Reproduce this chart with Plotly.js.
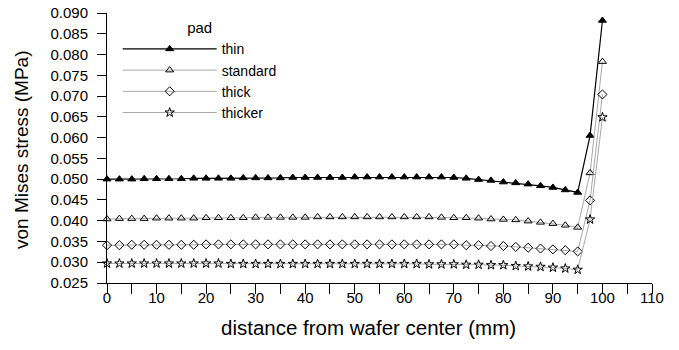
<!DOCTYPE html>
<html>
<head>
<meta charset="utf-8">
<script src="https://cdn.plot.ly/plotly-3.0.1.min.js"></script>
<style>
  html, body { margin: 0; padding: 0; background: #fff; }
  #chart { width: 679px; height: 350px; }
</style>
</head>
<body>
<div id="chart"></div>
<script>
// Radial positions on the wafer (mm)
const distance = [
  0, 2.5, 5, 7.5, 10, 12.5, 15, 17.5, 20, 22.5,
  25, 27.5, 30, 32.5, 35, 37.5, 40, 42.5, 45, 47.5,
  50, 52.5, 55, 57.5, 60, 62.5, 65, 67.5, 70, 72.5,
  75, 77.5, 80, 82.5, 85, 87.5, 90, 92.5, 95, 97.5, 100
];

// von Mises stress (MPa) for each pad thickness
const thin = [
  0.0500, 0.0500, 0.0500, 0.0501, 0.0501, 0.0501, 0.0501, 0.0502, 0.0502, 0.0502,
  0.0502, 0.0503, 0.0503, 0.0503, 0.0503, 0.0504, 0.0504, 0.0504, 0.0504, 0.0504,
  0.0505, 0.0505, 0.0505, 0.0505, 0.0505, 0.0505, 0.0505, 0.0505, 0.0504, 0.0502,
  0.0499, 0.0497, 0.0493, 0.0491, 0.0488, 0.0484, 0.0480, 0.0474, 0.0468, 0.0605, 0.0882
];
const standard = [
  0.0404, 0.0405, 0.0405, 0.0405, 0.0406, 0.0406, 0.0406, 0.0406, 0.0407, 0.0407,
  0.0407, 0.0407, 0.0408, 0.0408, 0.0408, 0.0408, 0.0408, 0.0409, 0.0409, 0.0409,
  0.0409, 0.0409, 0.0409, 0.0409, 0.0409, 0.0409, 0.0409, 0.0408, 0.0407, 0.0407,
  0.0406, 0.0404, 0.0403, 0.0402, 0.0399, 0.0396, 0.0393, 0.0389, 0.0384, 0.0515, 0.0783
];
const thick = [
  0.0341, 0.0341, 0.0342, 0.0342, 0.0342, 0.0342, 0.0342, 0.0342, 0.0343, 0.0343,
  0.0343, 0.0343, 0.0343, 0.0343, 0.0343, 0.0343, 0.0343, 0.0343, 0.0343, 0.0343,
  0.0343, 0.0343, 0.0343, 0.0343, 0.0343, 0.0343, 0.0343, 0.0343, 0.0343, 0.0341,
  0.0341, 0.0339, 0.0339, 0.0337, 0.0335, 0.0333, 0.0331, 0.0329, 0.0326, 0.0449, 0.0704
];
const thicker = [
  0.0297, 0.0297, 0.0297, 0.0297, 0.0297, 0.0297, 0.0297, 0.0297, 0.0297, 0.0297,
  0.0296, 0.0296, 0.0296, 0.0296, 0.0296, 0.0296, 0.0296, 0.0296, 0.0296, 0.0296,
  0.0296, 0.0296, 0.0296, 0.0296, 0.0296, 0.0296, 0.0295, 0.0295, 0.0295, 0.0294,
  0.0294, 0.0293, 0.0293, 0.0291, 0.0290, 0.0289, 0.0287, 0.0285, 0.0282, 0.0403, 0.0649
];

const seriesNames = ['thin', 'standard', 'thick', 'thicker'];
const legendTitle = 'pad';
const xTitle = 'distance from wafer center (mm)';
const yTitle = 'von Mises stress (MPa)';

const FONT = 'Liberation Sans, Arial, Helvetica, sans-serif';

function series(name, y, symbol, lineColor, lineWidth) {
  return {
    type: 'scatter',
    mode: 'lines+markers',
    name: name,
    x: distance,
    y: y,
    line: { color: lineColor, width: lineWidth },
    marker: {
      symbol: symbol,
      size: 7,
      color: '#000',
      line: { color: '#000', width: 1 }
    },
    cliponaxis: false
  };
}

const traces = [
  series(seriesNames[0], thin, 'triangle-up', '#000', 1.2),
  series(seriesNames[1], standard, 'triangle-up-open', '#a8a8a8', 1),
  series(seriesNames[2], thick, 'diamond-open', '#a8a8a8', 1),
  series(seriesNames[3], thicker, 'star-open', '#a8a8a8', 1)
];

const layout = {
  width: 679,
  height: 350,
  margin: { l: 107, r: 27, t: 13, b: 67 },
  paper_bgcolor: '#fff',
  plot_bgcolor: '#fff',
  font: { family: FONT, size: 15, color: '#000' },
  showlegend: true,
  legend: {
    x: 0.0196,
    y: 0.997,
    xanchor: 'left',
    yanchor: 'top',
    bgcolor: 'rgba(0,0,0,0)',
    borderwidth: 0,
    itemwidth: 94,
    font: { family: FONT, size: 14, color: '#000' },
    title: { text: legendTitle, side: 'top center', font: { family: FONT, size: 15 } },
    traceorder: 'normal'
  },
  xaxis: {
    range: [0, 110],
    dtick: 10,
    tick0: 0,
    ticks: 'outside',
    ticklen: 10,
    tickwidth: 1,
    tickcolor: '#000',
    minor: { dtick: 5, ticks: 'outside', ticklen: 10, tickwidth: 1, tickcolor: '#000' },
    showline: true,
    linecolor: '#000',
    linewidth: 1,
    showgrid: false,
    zeroline: false,
    tickfont: { family: FONT, size: 15 },
    ticklabelstandoff: -9
  },
  yaxis: {
    range: [0.025, 0.090],
    dtick: 0.005,
    tick0: 0.025,
    tickformat: '.3f',
    ticks: 'outside',
    ticklen: 9,
    tickwidth: 1,
    tickcolor: '#000',
    showline: true,
    linecolor: '#000',
    linewidth: 1,
    showgrid: false,
    zeroline: false,
    tickfont: { family: FONT, size: 15 },
    ticklabelstandoff: 6
  },
  // Axis titles placed as paper-anchored text
  annotations: [
    {
      text: xTitle,
      xref: 'paper', yref: 'paper',
      x: 0.479, y: -0.163,
      xanchor: 'center', yanchor: 'middle',
      showarrow: false,
      font: { family: FONT, size: 20.5, color: '#000' }
    },
    {
      text: yTitle,
      xref: 'paper', yref: 'paper',
      x: -0.156, y: 0.4926,
      xanchor: 'center', yanchor: 'middle',
      textangle: -90,
      showarrow: false,
      font: { family: FONT, size: 19, color: '#000' }
    }
  ]
};

Plotly.newPlot('chart', traces, layout, { displayModeBar: false, staticPlot: true });
</script>
</body>
</html>
